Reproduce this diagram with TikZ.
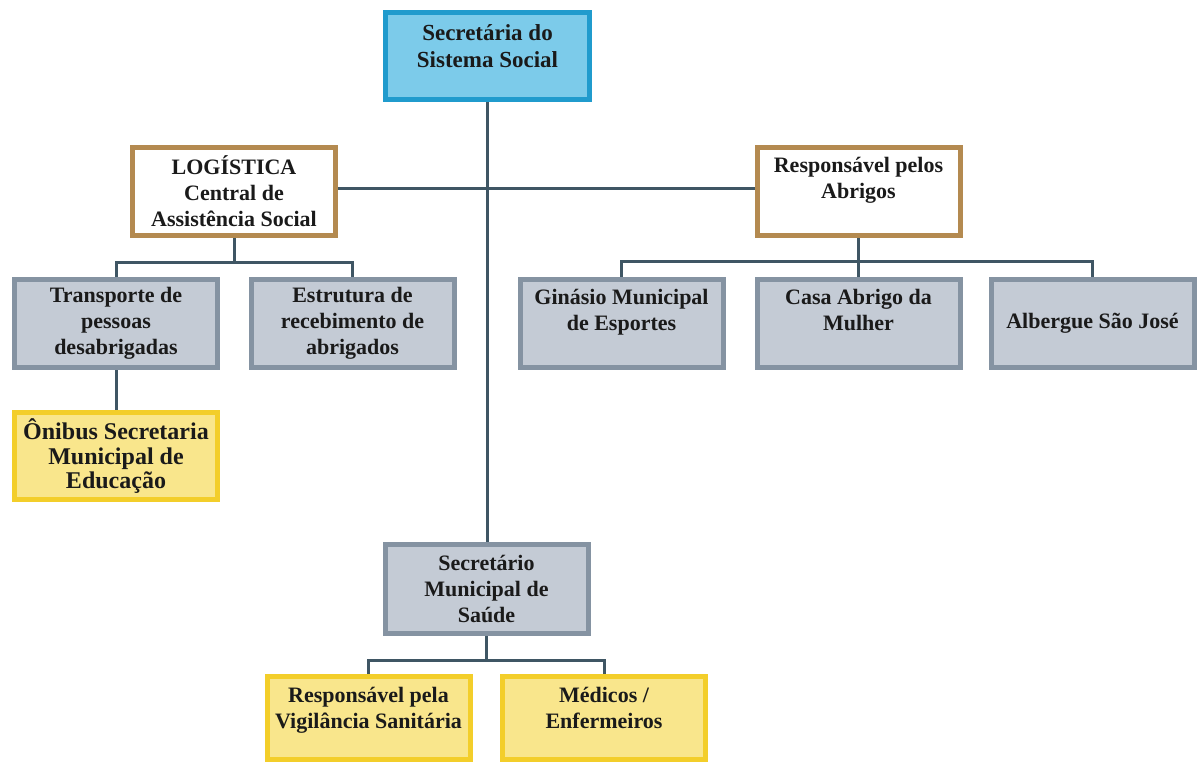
\documentclass[tikz,border=0pt]{standalone}
\usepackage{fontspec}
\setmainfont{Liberation Serif}
\definecolor{topfill}{HTML}{7CCBEA}
\definecolor{topline}{HTML}{209BCD}
\definecolor{tanline}{HTML}{B48A50}
\definecolor{grayfill}{HTML}{C4CBD5}
\definecolor{grayline}{HTML}{8593A2}
\definecolor{yelfill}{HTML}{F9E68C}
\definecolor{yelline}{HTML}{F3CE2A}
\definecolor{connc}{HTML}{3F5664}
\definecolor{txtc}{HTML}{1A1A1A}
\newcommand\topal[2]{\begin{minipage}[c][#1][t]{200pt}\centering\strut #2\end{minipage}}
\begin{document}
\begin{tikzpicture}[x=1pt,y=-1pt,
  base/.style={draw, line width=5pt, inner sep=0pt, align=center, text=txtc,
    font=\bfseries\fontsize{22}{26}\selectfont,
    minimum width=203pt, minimum height=88pt},
  bluebox/.style={base, draw=topline, fill=topfill, minimum width=204pt, minimum height=87pt,
    font=\bfseries\fontsize{23}{27}\selectfont},
  tanbox/.style={base, draw=tanline, fill=white},
  graybox/.style={base, draw=grayline, fill=grayfill},
  yelbox/.style={base, draw=yelline, fill=yelfill},
  conn/.style={draw=connc, line width=3pt}]
\useasboundingbox (0,0) rectangle (1198,764);
\fill[white] (0,0) rectangle (1198,764);

% nodes
\node[bluebox] (top) at (487.5,56) {\topal{68.6pt}{Secretária do\\Sistema Social}};
\node[tanbox] (log) at (234,191.5) {LOGÍSTICA\\Central de\\Assistência Social};
\node[tanbox] (abr) at (858.5,191.5) {\topal{74.8pt}{Responsável pelos\\Abrigos}};
\node[graybox] (tra) at (116,323.5) {Transporte de\\pessoas\\desabrigadas};
\node[graybox] (est) at (352.5,323.5) {Estrutura de\\recebimento de\\abrigados};
\node[yelbox, minimum height=87pt, font=\bfseries\fontsize{24}{23.5}\selectfont] (oni) at (116,456)
  {\topal{74pt}{Ônibus Secretaria\\Municipal de\\Educação}};
\node[graybox] (gin) at (621.5,323.5) {\topal{74.8pt}{Ginásio Municipal\\de Esportes}};
\node[graybox] (cas) at (858.5,323.5) {\topal{74.8pt}{Casa Abrigo da\\Mulher}};
\node[graybox] (alb) at (1092.5,323.5) {Albergue São José};
\node[graybox, minimum height=89pt] (sau) at (486.5,589) {Secretário\\Municipal de\\Saúde};
\node[yelbox, minimum height=83pt] (vig) at (368.5,718) {\topal{67.8pt}{Responsável pela\\Vigilância Sanitária}};
\node[yelbox, minimum height=83pt, minimum width=203pt] (med) at (604,718) {\topal{67.8pt}{Médicos /\\Enfermeiros}};

% branch points
\coordinate (lb) at (234,262);
\coordinate (rb) at (858.5,261);
\coordinate (sb) at (486.5,660);
\coordinate (hy) at (487,188);

% connectors
\draw[conn] (top.south) -- (top.south |- sau.north);
\draw[conn] (log.east |- hy) -- (abr.west |- hy);
\draw[conn] (log.south) -- (lb);
\draw[conn] (tra.north) |- (lb) -| (est.north);
\draw[conn] (tra.south) -- (oni.north);
\draw[conn] (abr.south) -- (rb);
\draw[conn] (gin.north) |- (rb) -| (alb.north);
\draw[conn] (cas.north) -- (rb);
\draw[conn] (sau.south) -- (sb);
\draw[conn] (vig.north) |- (sb) -| (med.north);
\end{tikzpicture}
\end{document}
